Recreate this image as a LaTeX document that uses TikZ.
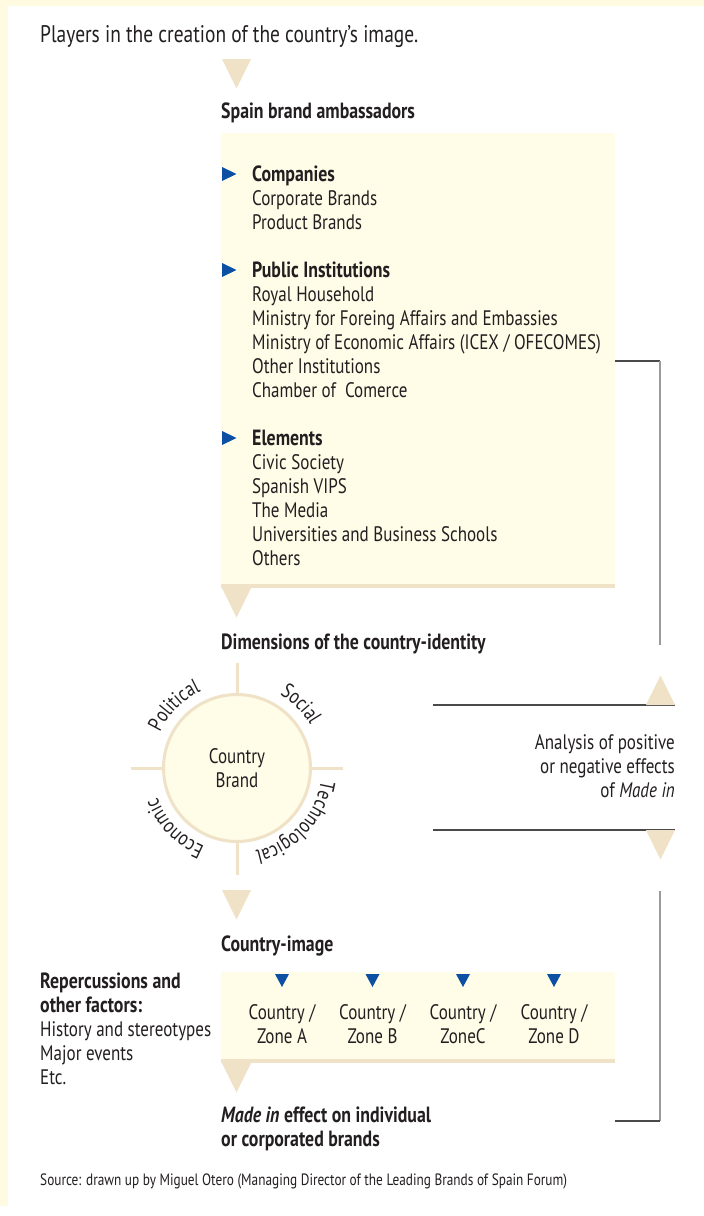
\documentclass[tikz,border=0pt]{standalone}
\usepackage{fontspec}
\setmainfont{PT Sans}[FakeStretch=0.81]
\usetikzlibrary{decorations.text}
\definecolor{paleyel}{HTML}{FFFCE8}
\definecolor{frameyel}{HTML}{FFFBE0}
\definecolor{tanc}{HTML}{EFE2C6}
\definecolor{bullblue}{HTML}{0D4FA3}
\definecolor{ink}{HTML}{231F20}
\definecolor{darkline}{HTML}{4A4A4A}
\definecolor{grayline}{HTML}{9A9A9A}
\newcommand{\bodyfont}{\fontsize{21}{24}\selectfont}
\newcommand{\boldfont}{\fontsize{22}{24}\selectfont\bfseries}
\newcommand{\titlefont}{\fontsize{24}{28}\selectfont}
\newcommand{\srcfont}{\fontsize{16.4}{19}\selectfont}
\tikzset{
  txt/.style={anchor=base west, inner sep=0pt, text=ink, font=\bodyfont},
  btxt/.style={txt, font=\boldfont},
  downtri/.pic={\fill[tanc] (-14.5,0) -- (14.5,0) -- (0,-29.5) -- cycle;},
  uptri/.pic={\fill[tanc] (-14.5,0) -- (14.5,0) -- (0,29.5) -- cycle;},
  bullet/.pic={\fill[bullblue] (0,7) -- (14.5,0) -- (0,-7) -- cycle;},
  smalltri/.pic={\fill[bullblue] (-7,0) -- (7,0) -- (0,-13) -- cycle;},
  hline/.style={draw=darkline, line width=1.4pt},
  vline/.style={draw=grayline, line width=1.4pt},
  spoke/.style={draw=tanc, line width=3pt},
}
\begin{document}
\begin{tikzpicture}[x=1pt,y=1pt]
\useasboundingbox (0,0) rectangle (704,-1216);
% frame
\fill[frameyel] (0,0) rectangle (704,-1216);
\fill[white] (8,-6) rectangle (704,-1216);
\fill[white] (0,-1206) rectangle (8,-1216);

% title
\node[txt, font=\titlefont] (title) at (40,-42) {Players in the creation of the country’s image.};
\pic at (236.5,-59) {downtri};
\node[btxt] (ambtitle) at (221,-118) {Spain brand ambassadors};

% ambassadors box
\node[fill=paleyel, minimum width=394pt, minimum height=451pt, anchor=north west, inner sep=0pt] (amb) at (221,-133) {};
\fill[tanc] (amb.south west) rectangle ++(394,-4);

\pic at (222,-174) {bullet};
\pic at (222,-270) {bullet};
\pic at (222,-438) {bullet};

\node[btxt] (l1) at (252,-181) {Companies};
\node[txt] (l2) at (252,-205) {Corporate Brands};
\node[txt] (l3) at (252,-229) {Product Brands};
\node[btxt] (l4) at (252,-277) {Public Institutions};
\node[txt] (l5) at (252,-301) {Royal Household};
\node[txt] (l6) at (252,-325) {Ministry for Foreing Affairs and Embassies};
\node[txt] (l7) at (252,-349) {Ministry of Economic Affairs (ICEX / OFECOMES)};
\node[txt] (l8) at (252,-373) {Other Institutions};
\node[txt] (l9) at (252,-397) {Chamber of \ Comerce};
\node[btxt] (l10) at (252,-445) {Elements};
\node[txt] (l11) at (252,-469) {Civic Society};
\node[txt] (l12) at (252,-493) {Spanish VIPS};
\node[txt] (l13) at (252,-517) {The Media};
\node[txt] (l14) at (252,-541) {Universities and Business Schools};
\node[txt] (l15) at (252,-565) {Others};

\pic at (236.5,-588) {downtri};
\node[btxt] (dimtitle) at (221,-649) {Dimensions of the country-identity};

% circle
\node[circle, draw=tanc, line width=3pt, fill=paleyel, minimum size=147pt, inner sep=0pt,
      align=center, text=ink, font=\bodyfont] (cb) at (237,-768) {Country\\Brand};
\coordinate (sN) at (237,-663);
\coordinate (sS) at (237,-875);
\coordinate (sW) at (131,-768);
\coordinate (sE) at (343,-768);
\draw[spoke] (cb.north) -- (sN);
\draw[spoke] (cb.south) -- (sS);
\draw[spoke] (cb.west) -- (sW);
\draw[spoke] (cb.east) -- (sE);

\path[decorate, decoration={text along path, text align=center,
  text={|\bodyfont\color{ink}|Political}}]
  (cb.center) ++(175:85) arc[start angle=175, end angle=95, radius=85];
\path[decorate, decoration={text along path, text align=center,
  text={|\bodyfont\color{ink}|Social}}]
  (cb.center) ++(85:85) arc[start angle=85, end angle=5, radius=85];
\path[decorate, decoration={text along path, text align=center,
  text={|\bodyfont\color{ink}|Technological}}]
  (cb.center) ++(5:85) arc[start angle=5, end angle=-91, radius=85];
\path[decorate, decoration={text along path, text align=center,
  text={|\bodyfont\color{ink}|Economic}}]
  (cb.center) ++(-92:85) arc[start angle=-92, end angle=-180, radius=85];

% analysis
\coordinate (a1l) at (433,-705);
\coordinate (a1r) at (675,-705);
\coordinate (a2l) at (433,-830);
\coordinate (a2r) at (675,-830);
\draw[hline] (a1l) -- (a1r);
\draw[hline] (a2l) -- (a2r);
\pic at (660.5,-705) {uptri};
\pic at (660.5,-830) {downtri};
\node[txt, anchor=base east] (an1) at (675,-749) {Analysis of positive};
\node[txt, anchor=base east] (an2) at (675,-773) {or negative effects};
\node[txt, anchor=base east] (an3) at (675,-797) {of \textit{Made in}};

% bracket upper
\coordinate (bu1) at (660,-361);
\coordinate (bu2) at (660,-645);
\draw[hline] (amb.east |- bu1) -- (bu1);
\draw[vline] (bu1) -- (bu2);

% country image
\pic at (236.5,-890) {downtri};
\node[btxt] (citle) at (221,-951) {Country-image};
\node[fill=paleyel, minimum width=394pt, minimum height=87pt, anchor=north west, inner sep=0pt] (zones) at (221,-972) {};
\fill[tanc] (zones.south west) rectangle ++(394,-4);

\foreach \x/\z [count=\i] in {282/Zone A, 372.5/Zone B, 463/ZoneC, 554/Zone D}{
  \pic at (\x,-974) {smalltri};
  \node[txt, anchor=base] (zc\i) at (\x,-1019) {Country /};
  \node[txt, anchor=base] (zz\i) at (\x,-1043) {\z};
}

% left text
\node[btxt] (r1) at (40,-988) {Repercussions and};
\node[btxt] (r2) at (40,-1012) {other factors:};
\node[txt] (r3) at (40,-1036) {History and stereotypes};
\node[txt] (r4) at (40,-1060) {Major events};
\node[txt] (r5) at (40,-1084) {Etc.};

\pic at (236.5,-1063) {downtri};
\node[btxt] (m1) at (221,-1122) {\textit{Made in} effect on individual};
\node[btxt] (m2) at (221,-1146) {or corporated brands};

% bracket lower
\coordinate (bl1) at (660,-891);
\coordinate (bl2) at (660,-1121);
\draw[vline] (bl1) -- (bl2);
\draw[hline] (bl2) -- (zones.east |- bl2);

% source
\node[txt, font=\srcfont] (src) at (40,-1185) {Source: drawn up by Miguel Otero (Managing Director of the Leading Brands of Spain Forum)};
\end{tikzpicture}
\end{document}
